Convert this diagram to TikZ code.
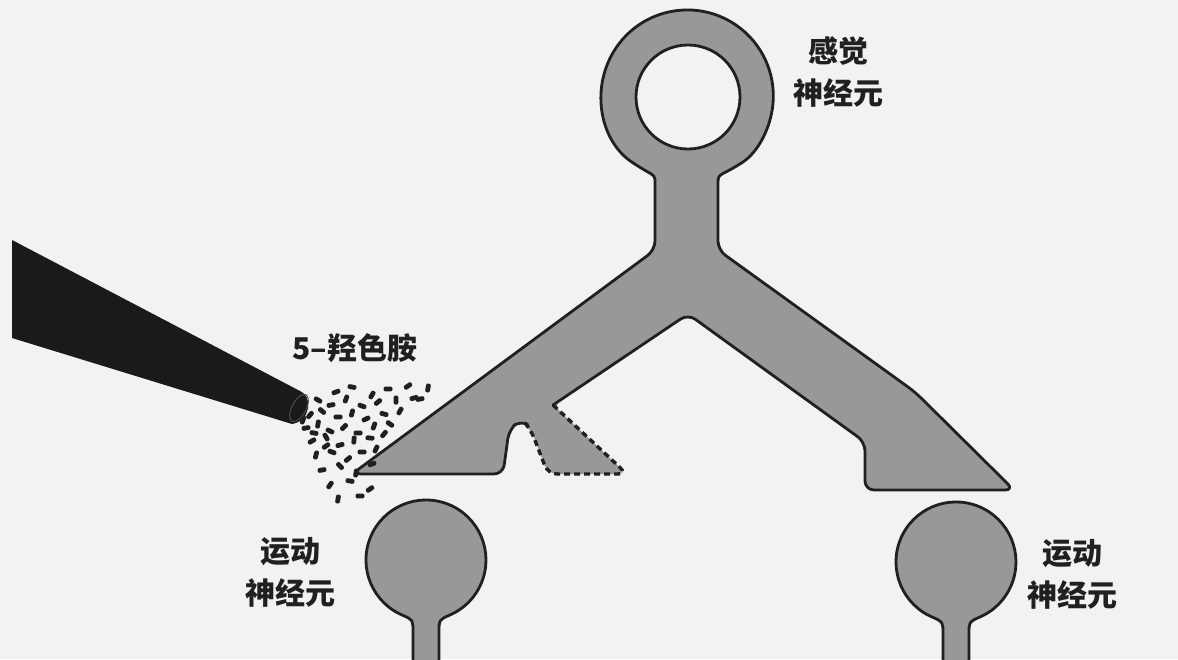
\documentclass[tikz,border=0pt]{standalone}
\usepackage{fontspec}
\newfontfamily\cjk{Noto Sans CJK SC}
\definecolor{paper}{HTML}{F2F2F2}
\definecolor{neurongray}{HTML}{989898}
\definecolor{inkc}{HTML}{202020}
\definecolor{pipettec}{HTML}{1A1A1A}
\begin{document}
\begin{tikzpicture}[x=1pt,y=-1pt,
  neuronfill/.style={fill=neurongray},
  outline/.style={draw=inkc, line width=2.8pt, line join=round, line cap=round},
  dashline/.style={draw=inkc, line width=3.4pt, dash pattern=on 6pt off 4pt, line join=round},
  lbl/.style={font=\cjk\bfseries\fontsize{30}{42}\selectfont, align=center, text=inkc, inner sep=0pt},
  drop/.style={fill=inkc, rounded corners=2pt}]

\path[use as bounding box, fill=paper] (0,0) rectangle (1178,659);
\clip (0,0) rectangle (1178,659);

% ---------- sensory neuron: ring, stem and two branches ----------
\def\sensorypath{
  (655,192) .. controls (655,176) .. (638,166.4)
  arc[start angle=125, end angle=415, radius=86]
  .. controls (718,176) .. (718,192)
  -- (718,250) -- (915,392) -- (1014,490) -- (865,490) -- (865,442)
  -- (688,314) -- (553,405) -- (627,474) -- (548,474) -- (531,430)
  -- (520,420) -- (509,430) -- (503,474) -- (352,474) -- (655,250) -- cycle}
\fill[neuronfill, rounded corners=9pt] \sensorypath;

% solid outline, from the notch round to the top of the new terminal
\draw[outline, rounded corners=9pt]
  (525,423) -- (520,420) -- (509,430) -- (503,474) -- (352,474) -- (655,250) -- (655,192)
  .. controls (655,176) .. (638,166.4)
  arc[start angle=125, end angle=415, radius=86]
  .. controls (718,176) .. (718,192)
  -- (718,250) -- (915,392) -- (1014,490) -- (865,490) -- (865,442)
  -- (688,314) -- (553,405);

% newly grown terminal, dashed
\draw[dashline, rounded corners=9pt]
  (553,405) -- (627,474) -- (548,474) -- (531,430) -- (525,423);

% hole of the ring
\filldraw[fill=paper, draw=inkc, line width=2.8pt] (688,97) circle[radius=52];

% ---------- motor neurons ----------
\foreach \cx/\cy in {426/560, 956/562}{
  \filldraw[neuronfill, draw=inkc, line width=2.8pt, line join=round]
    (\cx-13,680) -- (\cx-13,\cy+72)
    .. controls (\cx-13,\cy+60) .. (\cx-22.5,\cy+55.6)
    arc[start angle=112, end angle=428, radius=60]
    .. controls (\cx+13,\cy+60) .. (\cx+13,\cy+72)
    -- (\cx+13,680) -- cycle;
}

% ---------- pipette ----------
\fill[pipettec] (12,240) -- (300,391)
  .. controls (313,396) and (311,421) .. (292,424)
  -- (12,338) -- cycle;
\draw[draw=black!70, line width=1pt, rotate around={-28:(299,408)}]
  (299,408) ellipse[x radius=7, y radius=15];

% ---------- serotonin droplets ----------
\foreach \x/\y/\a in {
  336/392/20, 352/387/-10, 372/395/60, 388/389/0, 408/386/35, 428/388/80, 420/399/10,
  318/400/-30, 331/405/10, 346/399/70, 362/406/-20, 378/402/40, 396/400/90, 414/398/15,
  310/415/50, 322/411/-40, 338/417/0, 352/413/75, 366/419/25, 384/414/-15, 400/411/60,
  306/428/10, 318/424/80, 330/431/-25, 344/427/45, 358/433/0, 374/426/70, 390/424/-35,
  312/441/30, 326/437/-60, 340/445/15, 354/440/85, 370/438/-5, 384/434/50,
  316/455/75, 332/452/-20, 348/459/40, 362/452/0, 376/449/65,
  322/470/10, 340/466/-45, 356/473/80, 372/464/20,
  330/485/55, 350/481/-10, 370/489/35,
  338/499/80, 360/496/0, 303/420/70, 314/433/-10, 326/446/35}{
  \fill[drop, rotate around={\a:(\x,\y)}] (\x-4.5,\y-2.4) rectangle (\x+4.5,\y+2.4);
}

% ---------- labels ----------
\node[lbl] (sensory) at (838,72) {感觉\\神经元};
\node[lbl] (serotonin) at (355,348) {5–羟色胺};
\node[lbl] (motorL) at (290,572) {运动\\神经元};
\node[lbl] (motorR) at (1072,574) {运动\\神经元};
\end{tikzpicture}
\end{document}
